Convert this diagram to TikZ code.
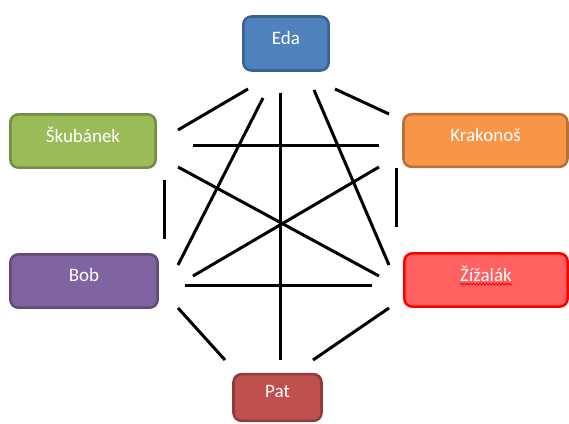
\documentclass[tikz,border=0pt]{standalone}
\usepackage{fontspec}
\setmainfont{Carlito}
\usetikzlibrary{decorations.pathmorphing}
\tikzset{
  box/.style={draw=#1!75!black, rounded corners=6pt, line width=1.9pt, inner sep=0pt},
  txt/.style={text=white, font=\fontsize{14.25}{16}\selectfont, inner sep=0pt},
  link/.style={line width=2.25pt, black},
  spell/.style={red, line width=0.6pt, decorate, decoration={snake, amplitude=0.7pt, segment length=2.4pt}}
}
\definecolor{cEda}{HTML}{4F81BD}
\definecolor{cSku}{HTML}{9BBB59}
\definecolor{cKra}{HTML}{F79646}
\definecolor{cBob}{HTML}{8064A2}
\definecolor{cPat}{HTML}{C0504D}
\definecolor{cZiz}{HTML}{FF6060}
\begin{document}
\begin{tikzpicture}[x=0.75pt, y=-0.75pt]
\useasboundingbox (0,0) rectangle (569,424);
% boxes
\node[box=cEda, fill=cEda, minimum width=64pt, minimum height=40.5pt] (eda) at (286,43.5) {};
\node[box=cSku, fill=cSku, minimum width=109pt, minimum height=40pt] (sku) at (83,141) {};
\node[box=cKra, fill=cKra, minimum width=123pt, minimum height=39.5pt] (kra) at (485.5,140.5) {};
\node[box=cBob, fill=cBob, minimum width=110.5pt, minimum height=40pt] (bob) at (84,281) {};
\node[draw=red, fill=cZiz, rounded corners=6pt, line width=1.9pt, inner sep=0pt, minimum width=122.5pt, minimum height=40pt] (ziz) at (486,280) {};
\node[box=cPat, fill=cPat, minimum width=66pt, minimum height=35pt] (pat) at (277.5,397.5) {};
% texts
\node[txt] (tEda) at ([yshift=4.5pt]eda.center) {Eda};
\node[txt] (tSku) at ([yshift=4.5pt]sku.center) {Škubánek};
\node[txt] (tKra) at ([yshift=4.5pt]kra.center) {Krakonoš};
\node[txt] (tBob) at ([yshift=4.5pt]bob.center) {Bob};
\node[txt] (tZiz) at ([yshift=4.5pt]ziz.center) {Žížalák};
\node[txt] (tPat) at ([yshift=4.5pt]pat.center) {Pat};
\draw[spell] ([yshift=-1.8pt]tZiz.base west) -- ([yshift=-1.8pt]tZiz.base east);
% connector end points
\coordinate (a1) at (178,130); \coordinate (b1) at (248,89);
\coordinate (a2) at (263,98);  \coordinate (b2) at (178,265);
\coordinate (a3) at (280,93);  \coordinate (b3) at (280,360);
\coordinate (a4) at (314,90);  \coordinate (b4) at (389,265);
\coordinate (a5) at (335,89);  \coordinate (b5) at (389,114);
\coordinate (a6) at (193,146); \coordinate (b6) at (379,146);
\coordinate (a7) at (178,167); \coordinate (b7) at (379,276);
\coordinate (a8) at (379,167); \coordinate (b8) at (193,276);
\coordinate (a9) at (164,180); \coordinate (b9) at (164,239);
\coordinate (a10) at (396,168); \coordinate (b10) at (396,227);
\coordinate (a11) at (185,286); \coordinate (b11) at (372,286);
\coordinate (a12) at (178,308); \coordinate (b12) at (225,360);
\coordinate (a13) at (389,308); \coordinate (b13) at (313,360);
\foreach \i in {1,...,13} { \draw[link] (a\i) -- (b\i); }
\end{tikzpicture}
\end{document}
